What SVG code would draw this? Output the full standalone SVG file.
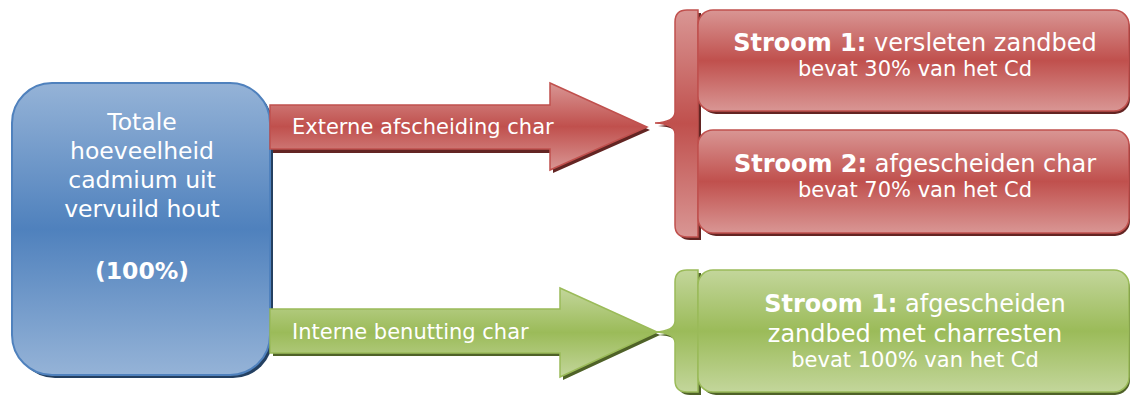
<svg xmlns="http://www.w3.org/2000/svg" width="1131" height="396" viewBox="0 0 1131 396">
<defs>
<linearGradient id="gBlue" x1="0" y1="0" x2="0" y2="1">
<stop offset="0" stop-color="#95b3d7"/><stop offset="0.5" stop-color="#4f81bd"/><stop offset="1" stop-color="#95b3d7"/>
</linearGradient>
<linearGradient id="gRed" x1="0" y1="0" x2="0" y2="1">
<stop offset="0" stop-color="#d99694"/><stop offset="0.5" stop-color="#c0504d"/><stop offset="1" stop-color="#d99694"/>
</linearGradient>
<linearGradient id="gGreen" x1="0" y1="0" x2="0" y2="1">
<stop offset="0" stop-color="#c3d69b"/><stop offset="0.5" stop-color="#9bbb59"/><stop offset="1" stop-color="#c3d69b"/>
</linearGradient>
</defs>
<style>
text{font-family:"DejaVu Sans","Verdana",sans-serif;fill:#ffffff}
.b{font-weight:bold}
.blue{fill:url(#gBlue);stroke:#4f81bd;stroke-width:2}
.red{fill:url(#gRed);stroke:#c0504d;stroke-width:1.5}
.green{fill:url(#gGreen);stroke:#9bbb59;stroke-width:1.5}
.shB{fill:#244061}
.shR{fill:#632523}
.shG{fill:#4f6228}
</style>

<g id="source">
<rect class="shB" x="15" y="86" width="258" height="292" rx="40"/>
<rect class="blue" x="12" y="83" width="258" height="292" rx="40"/>
<text x="142" y="130" font-size="23.5" text-anchor="middle">Totale</text>
<text x="142" y="159" font-size="23.5" text-anchor="middle">hoeveelheid</text>
<text x="142" y="188" font-size="23.5" text-anchor="middle">cadmium uit</text>
<text x="142" y="217" font-size="23.5" text-anchor="middle">vervuild hout</text>
<text x="142" y="279" font-size="23.5" text-anchor="middle" class="b">(100%)</text>
</g>

<g id="connectors">
<g id="arrow-extern">
<path class="shR" d="M273,108 L553,108 L553,86 L650,130 L553,173 L553,153 L273,153 Z"/>
<path class="red" d="M270,105 L550,105 L550,83 L647,127 L550,170 L550,149 L270,149 Z"/>
<text x="292" y="134" font-size="21">Externe afscheiding char</text>
</g>
<g id="arrow-intern">
<path class="shG" d="M273,312 L563,312 L563,291 L660,335 L563,380 L563,356 L273,356 Z"/>
<path class="green" d="M270,309 L560,309 L560,288 L657,332 L560,377 L560,353 L270,353 Z"/>
<text x="292" y="339" font-size="21">Interne benutting char</text>
</g>
</g>

<g id="brace-red">
<path class="shR" d="M701,13 L690,13 Q678,13 678,25 L678,115 Q678,125 658,126 Q678,127 678,137 L678,228 Q678,240 690,240 L701,240 Z"/>
<path class="red" d="M698,10 L687,10 Q675,10 675,22 L675,112 Q675,122 655,123 Q675,124 675,134 L675,225 Q675,237 687,237 L698,237 Z"/>
</g>

<g id="stroom1-red">
<rect class="shR" x="701" y="13" width="429" height="101" rx="15"/>
<rect class="red" x="698" y="10" width="431" height="101" rx="15"/>
<text x="915" y="51" font-size="24" text-anchor="middle"><tspan class="b">Stroom 1:</tspan> versleten zandbed</text>
<text x="915" y="76" font-size="21" text-anchor="middle">bevat 30% van het Cd</text>
</g>

<g id="stroom2-red">
<rect class="shR" x="701" y="133" width="429" height="103" rx="15"/>
<rect class="red" x="698" y="130" width="431" height="103" rx="15"/>
<text x="915" y="172" font-size="24" text-anchor="middle"><tspan class="b">Stroom 2:</tspan> afgescheiden char</text>
<text x="915" y="197" font-size="21" text-anchor="middle">bevat 70% van het Cd</text>
</g>

<g id="brace-green">
<path class="shG" d="M701,273 L690,273 Q678,273 678,285 L678,324 Q678,334 658,335 Q678,336 678,346 L678,383 Q678,395 690,395 L701,395 Z"/>
<path class="green" d="M698,270 L687,270 Q675,270 675,282 L675,321 Q675,331 655,332 Q675,333 675,343 L675,380 Q675,392 687,392 L698,392 Z"/>
</g>

<g id="stroom1-green">
<rect class="shG" x="701" y="273" width="429" height="122" rx="15"/>
<rect class="green" x="698" y="270" width="431" height="122" rx="15"/>
<text x="915" y="312" font-size="24" text-anchor="middle"><tspan class="b">Stroom 1:</tspan> afgescheiden</text>
<text x="915" y="342" font-size="24" text-anchor="middle">zandbed met charresten</text>
<text x="915" y="367" font-size="21" text-anchor="middle">bevat 100% van het Cd</text>
</g>
</svg>
